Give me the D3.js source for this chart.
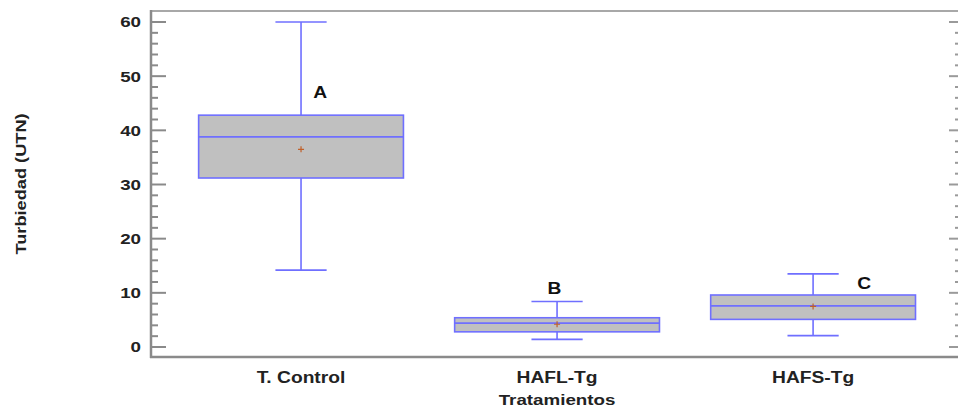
<!DOCTYPE html>
<html>
<head>
<meta charset="utf-8">
<script src="https://cdn.jsdelivr.net/npm/d3@7"></script>
<style>
  html, body { margin: 0; padding: 0; background: #fff; }
  svg { display: block; font-family: "Liberation Sans", Arial, sans-serif; }
</style>
</head>
<body>
<svg id="chart" width="958" height="408"></svg>
<script>
// Turbidity by treatment: box summaries
const categories = ["T. Control", "HAFL-Tg", "HAFS-Tg"];
const whiskerLow  = [14.2, 1.4, 2.1];
const q1          = [31.2, 2.8, 5.1];
const median      = [38.8, 4.4, 7.6];
const q3          = [42.8, 5.4, 9.6];
const whiskerHigh = [60.0, 8.4, 13.5];
const means       = [36.5, 4.2, 7.5];
const groupLetters = ["A", "B", "C"];
const yTicks = [0, 10, 20, 30, 40, 50, 60];

const svg = d3.select("#chart");
const plotLeft = 151, plotRight = 958, plotTop = 11, plotBottom = 357;

// categories sit at positions 1..3 on a linear axis
const x = d3.scaleLinear().domain([0.414, 3.566]).range([plotLeft, plotRight]);
const y = d3.scaleLinear().domain([0, 60]).range([347, 22]);

const axisColor = "#8a8a8a";
const boxStroke = "#6f6fff";
const textColor = "#222";

// the chart's lettering is a wide bold face: widen glyphs along the reading direction
function widen(sel, factor) {
  sel.each(function () {
    const w = this.getComputedTextLength();
    d3.select(this).attr("textLength", w * factor).attr("lengthAdjust", "spacingAndGlyphs");
  });
}

// frame: top and bottom lines
svg.append("line").attr("x1", plotLeft).attr("x2", plotRight).attr("y1", plotTop).attr("y2", plotTop)
  .attr("stroke", "#a8a8a8").attr("stroke-width", 2);
svg.append("line").attr("x1", plotLeft - 1).attr("x2", plotRight).attr("y1", plotBottom).attr("y2", plotBottom)
  .attr("stroke", axisColor).attr("stroke-width", 2.5);

// left axis with major and minor ticks
const minor = d3.range(0, 61, 2).filter(v => v % 10 !== 0);
const gl = svg.append("g").attr("transform", `translate(${plotLeft},0)`);
gl.append("line").attr("x1", 0).attr("x2", 0).attr("y1", plotTop - 1).attr("y2", plotBottom + 1)
  .attr("stroke", axisColor).attr("stroke-width", 2.5);
gl.selectAll("line.maj").data(yTicks).join("line").attr("class", "maj")
  .attr("x1", 0).attr("x2", 15).attr("y1", d => y(d)).attr("y2", d => y(d))
  .attr("stroke", axisColor).attr("stroke-width", 2);
gl.selectAll("line.min").data(minor).join("line").attr("class", "min")
  .attr("x1", 0).attr("x2", 7).attr("y1", d => y(d)).attr("y2", d => y(d))
  .attr("stroke", axisColor).attr("stroke-width", 2);
gl.selectAll("text").data(yTicks).join("text")
  .attr("x", -10).attr("y", d => y(d)).attr("dy", "0.36em")
  .attr("text-anchor", "end").attr("font-size", 15).attr("font-weight", "bold")
  .attr("fill", textColor).text(d => d)
  .call(widen, 1.25);

// right axis ticks pointing inward
const gr = svg.append("g").attr("transform", `translate(${plotRight},0)`);
gr.selectAll("line.maj").data(yTicks).join("line").attr("class", "maj")
  .attr("x1", 0).attr("x2", -9).attr("y1", d => y(d)).attr("y2", d => y(d))
  .attr("stroke", "#9a9a9a").attr("stroke-width", 2);
gr.selectAll("line.min").data(minor).join("line").attr("class", "min")
  .attr("x1", 0).attr("x2", -3).attr("y1", d => y(d)).attr("y2", d => y(d))
  .attr("stroke", "#9a9a9a").attr("stroke-width", 2);

// category labels
svg.selectAll("text.cat").data(categories).join("text").attr("class", "cat")
  .attr("x", (d, i) => x(i + 1)).attr("y", 383)
  .attr("text-anchor", "middle").attr("font-size", 16).attr("font-weight", "bold")
  .attr("fill", textColor).text(d => d)
  .call(widen, 1.2);

svg.append("text").attr("x", x(2)).attr("y", 405)
  .attr("text-anchor", "middle").attr("font-size", 15).attr("font-weight", "bold")
  .attr("fill", textColor).text("Tratamientos")
  .call(widen, 1.25);

svg.append("text").attr("transform", "translate(26,184) rotate(-90)")
  .attr("text-anchor", "middle").attr("font-size", 14).attr("font-weight", "bold")
  .attr("fill", textColor).text("Turbiedad (UTN)")
  .call(widen, 1.3);

// boxes
const boxHalf = 0.4;   // half box width in category units
const capHalf = 0.1;   // half whisker-cap width
const g = svg.append("g");
categories.forEach((c, i) => {
  const cx = x(i + 1);
  const gb = g.append("g");
  // whiskers
  gb.append("line").attr("x1", cx).attr("x2", cx).attr("y1", y(whiskerHigh[i])).attr("y2", y(q3[i]))
    .attr("stroke", boxStroke).attr("stroke-width", 1.6);
  gb.append("line").attr("x1", cx).attr("x2", cx).attr("y1", y(q1[i])).attr("y2", y(whiskerLow[i]))
    .attr("stroke", boxStroke).attr("stroke-width", 1.6);
  [whiskerHigh[i], whiskerLow[i]].forEach(v => {
    gb.append("line").attr("x1", x(i + 1 - capHalf)).attr("x2", x(i + 1 + capHalf))
      .attr("y1", y(v)).attr("y2", y(v)).attr("stroke", boxStroke).attr("stroke-width", 1.6);
  });
  // box
  gb.append("rect").attr("x", x(i + 1 - boxHalf)).attr("width", x(i + 1 + boxHalf) - x(i + 1 - boxHalf))
    .attr("y", y(q3[i])).attr("height", y(q1[i]) - y(q3[i]))
    .attr("fill", "#c0c0c0").attr("stroke", boxStroke).attr("stroke-width", 1.6);
  // median
  gb.append("line").attr("x1", x(i + 1 - boxHalf)).attr("x2", x(i + 1 + boxHalf))
    .attr("y1", y(median[i])).attr("y2", y(median[i]))
    .attr("stroke", boxStroke).attr("stroke-width", 1.6);
  // mean marker
  const my = y(means[i]);
  gb.append("path").attr("d", `M${cx - 3},${my}H${cx + 3}M${cx},${my - 3}V${my + 3}`)
    .attr("stroke", "#c0602a").attr("stroke-width", 1.2);
});

// significance letters
const letterPos = [
  { dx: 0.075, v: 47 },
  { dx: -0.01, v: 10.9 },
  { dx: 0.2, v: 11.8 }
];
svg.selectAll("text.grp").data(groupLetters).join("text").attr("class", "grp")
  .attr("x", (d, i) => x(i + 1 + letterPos[i].dx)).attr("y", (d, i) => y(letterPos[i].v))
  .attr("dy", "0.36em").attr("text-anchor", "middle")
  .attr("font-size", 16).attr("font-weight", "bold").attr("fill", "#111").text(d => d)
  .call(widen, 1.2);
</script>
</body>
</html>
